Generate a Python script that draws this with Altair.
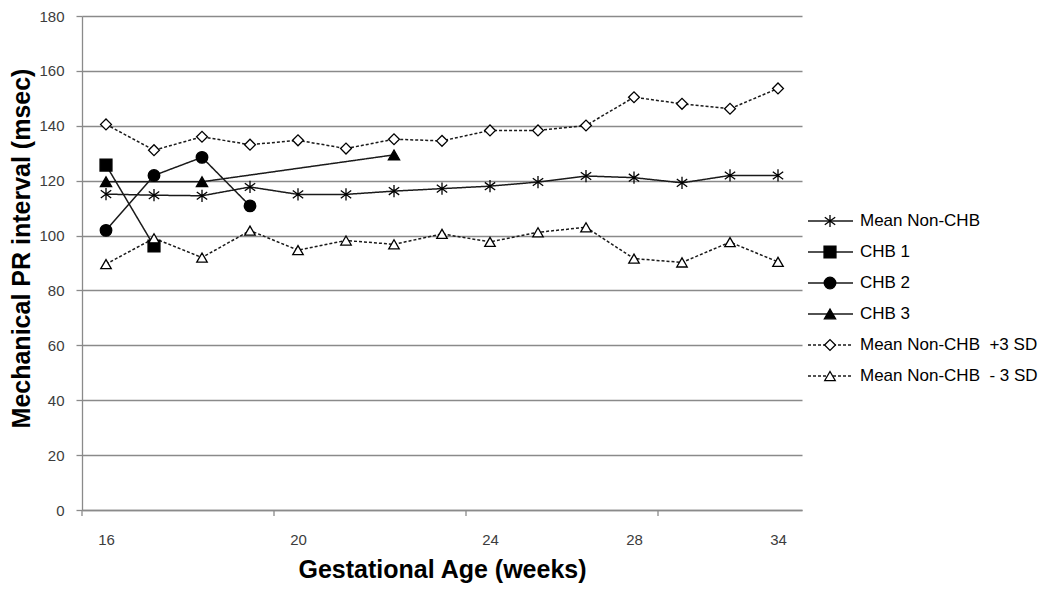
import altair as alt
import pandas as pd

# ---------------- data ----------------
week_labels = ["16", "", "", "", "20", "", "", "", "24", "", "", "28", "", "", "34"]

series_names = [
    "Mean Non-CHB",
    "CHB 1",
    "CHB 2",
    "CHB 3",
    "Mean Non-CHB\u00a0 +3 SD",
    "Mean Non-CHB\u00a0 - 3 SD",
]

mean_non_chb = [115.1, 114.7, 114.5, 117.7, 115.0, 115.0, 116.2, 117.1,
                118.0, 119.5, 121.7, 121.1, 119.2, 121.9, 121.9]
plus_3sd = [140.5, 131.1, 136.0, 133.1, 134.7, 131.7, 135.1, 134.5,
            138.3, 138.3, 140.1, 150.4, 148.0, 146.2, 153.6]
minus_3sd = [89.6, 99.0, 92.0, 101.8, 94.7, 98.2, 96.8, 100.6,
             97.7, 101.2, 103.0, 91.6, 90.2, 97.6, 90.4]

chb1_idx = [0, 1]
chb1_val = [125.7, 96.2]
chb2_idx = [0, 1, 2, 3]
chb2_val = [101.9, 121.9, 128.5, 110.8]
chb3_idx = [0, 2, 6]
chb3_val = [119.6, 119.6, 129.4]

y_ticks = list(range(0, 181, 20))
tick_interval = 4

# ---------------- tables ----------------
rows = []
for i, v in enumerate(mean_non_chb):
    rows.append({"series": series_names[0], "idx": i, "value": v})
for i, v in zip(chb1_idx, chb1_val):
    rows.append({"series": series_names[1], "idx": i, "value": v})
for i, v in zip(chb2_idx, chb2_val):
    rows.append({"series": series_names[2], "idx": i, "value": v})
for i, v in zip(chb3_idx, chb3_val):
    rows.append({"series": series_names[3], "idx": i, "value": v})
for i, v in enumerate(plus_3sd):
    rows.append({"series": series_names[4], "idx": i, "value": v})
for i, v in enumerate(minus_3sd):
    rows.append({"series": series_names[5], "idx": i, "value": v})
df = pd.DataFrame(rows)

tick_df = pd.DataFrame({"idx": [i - 0.5 for i in range(0, len(week_labels), tick_interval)]})
legend_df = pd.DataFrame({"series": series_names, "label": series_names})

label_idx = [i for i, l in enumerate(week_labels) if l]
label_expr = " : ".join(f"datum.value == {i} ? '{week_labels[i]}'" for i in label_idx) + " : ''"

FONT = "Liberation Sans"
AXIS_GRAY = "#8a8a8a"
PLOT_H = 494

asterisk = "M0,-1L0,1M-0.85,-0.62L0.85,0.62M-0.85,0.62L0.85,-0.62"

shape_scale = alt.Scale(domain=series_names,
                        range=[asterisk, "square", "circle", "triangle-up", "diamond", "triangle-up"])
fill_scale = alt.Scale(domain=series_names,
                       range=["#000000", "#000000", "#000000", "#000000", "#ffffff", "#ffffff"])
dash_scale = alt.Scale(domain=series_names,
                       range=[[1, 0], [1, 0], [1, 0], [1, 0], [3, 2], [3, 2]])
size_scale = alt.Scale(domain=series_names, range=[150, 110, 105, 120, 110, 120])

x_enc = alt.X(
    "idx:Q",
    scale=alt.Scale(domain=[-0.5, len(week_labels) - 0.5], nice=False, zero=False),
    axis=alt.Axis(
        values=label_idx, labelExpr=label_expr, ticks=False, tickSize=0,
        labelPadding=22, grid=False, domainColor=AXIS_GRAY, domainWidth=1.3,
        labelFont=FONT, labelFontSize=15, labelColor="#3c3c3c",
        title="Gestational Age (weeks)", titleFont=FONT, titleFontSize=25,
        titleFontWeight="bold", titleColor="#000000", titlePadding=10,
    ),
)
y_enc = alt.Y(
    "value:Q",
    scale=alt.Scale(domain=[0, 180], nice=False),
    axis=alt.Axis(
        values=y_ticks, grid=True, gridColor=AXIS_GRAY, gridWidth=1.3,
        tickSize=6, tickColor=AXIS_GRAY, tickWidth=1.3, domainColor=AXIS_GRAY, domainWidth=1.3,
        labelPadding=12, labelFont=FONT, labelFontSize=15, labelColor="#3c3c3c",
        title="Mechanical PR interval (msec)", titleFont=FONT, titleFontSize=25,
        titleFontWeight="bold", titleColor="#000000", titlePadding=4,
        titleY=232,
    ),
)

lines = alt.Chart(df).mark_line(strokeWidth=1.5, color="#1a1a1a").encode(
    x=x_enc, y=y_enc,
    detail="series:N",
    strokeDash=alt.StrokeDash("series:N", scale=dash_scale, legend=None),
    order="idx:Q",
)
points = alt.Chart(df).mark_point(opacity=1, strokeWidth=1.3, stroke="#000000").encode(
    x=x_enc, y=y_enc,
    shape=alt.Shape("series:N", scale=shape_scale, legend=None),
    fill=alt.Fill("series:N", scale=fill_scale, legend=None),
    size=alt.Size("series:N", scale=size_scale, legend=None),
)
xticks = alt.Chart(tick_df).mark_rule(color=AXIS_GRAY, strokeWidth=1.3).encode(
    x=x_enc, y=alt.value(PLOT_H), y2=alt.value(PLOT_H + 6)
)
main = alt.layer(lines, points, xticks)

y_leg = alt.Y("series:N", scale=alt.Scale(type="point", domain=series_names, range=[205, 360], padding=0),
              axis=None)
leg_rules = alt.Chart(legend_df).mark_rule(strokeWidth=1.4, color="#1a1a1a").encode(
    x=alt.value(726), x2=alt.value(771), y=y_leg,
    strokeDash=alt.StrokeDash("series:N", scale=dash_scale, legend=None),
)
leg_points = alt.Chart(legend_df).mark_point(opacity=1, strokeWidth=1.3, stroke="#000000").encode(
    x=alt.value(748), y=y_leg,
    shape=alt.Shape("series:N", scale=shape_scale, legend=None),
    fill=alt.Fill("series:N", scale=fill_scale, legend=None),
    size=alt.Size("series:N", scale=size_scale, legend=None),
)
leg_text = alt.Chart(legend_df).mark_text(align="left", baseline="middle", font=FONT, fontSize=17,
                                          color="#000000").encode(
    x=alt.value(778), y=y_leg, text="label:N"
)
legend = alt.layer(leg_rules, leg_points, leg_text)

chart = alt.layer(main, legend).resolve_scale(y="independent").properties(
    width=720, height=PLOT_H,
    autosize=alt.AutoSizeParams(type="none"),
    padding={"left": 74, "top": 8, "right": 240, "bottom": 77},
    background="#ffffff",
).configure_view(stroke=None)

chart.save("out.html", embed_options={"renderer": "svg", "actions": False})
